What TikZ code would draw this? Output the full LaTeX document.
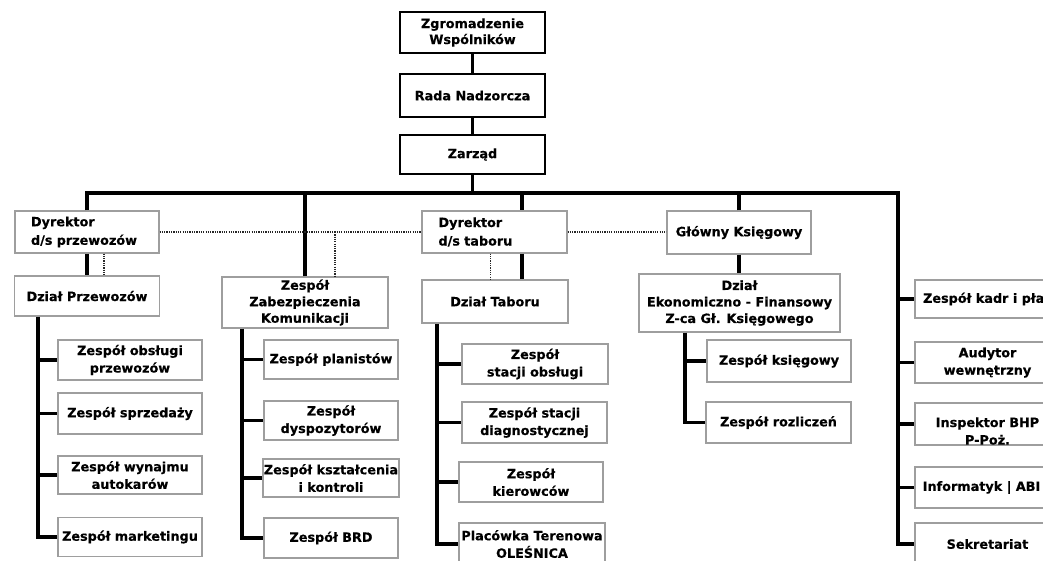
\documentclass[tikz,border=0pt]{standalone}
\usepackage{fontspec}
\setmainfont{DejaVu Sans}[BoldFeatures={FakeBold=0.4}]
\begin{document}
\begin{tikzpicture}[x=1pt,y=-1pt,
  every node/.style={font=\fontsize{12.8}{17.5}\selectfont\bfseries, inner sep=0pt, align=center},
  topbox/.style={draw=black, line width=2.2pt, minimum width=145, minimum height=41},
  box/.style={draw=black!38, line width=1.1pt},
  dirbox/.style={box, text width=112, align=left, minimum height=42, font=\fontsize{12.8}{18.5}\selectfont\bfseries},
  kid/.style={box, minimum width=144, minimum height=40},
  conn/.style={line width=3.2pt},
  dots/.style={line width=1.4pt, dash pattern=on 1.2pt off 1.1pt, black!85}]
\useasboundingbox (0,0) rectangle (1043,560);
\clip (0,0) rectangle (1043,560);
\fill[white] (0,0) rectangle (1043,560);

% top
\node[topbox, font=\fontsize{12.8}{16}\selectfont\bfseries] (zg) at (472.5,32.5) {Zgromadzenie\\Wspólników};
\node[topbox, minimum height=43] (rn) at (472.5,95.5) {Rada Nadzorcza};
\node[topbox, minimum height=39] (za) at (472.5,154.5) {Zarząd};

% second level
\node[dirbox, minimum width=144] (dp) at (87,232) {Dyrektor\\d/s~przewozów};
\node[dirbox, minimum width=145] (dt) at (494.5,232) {Dyrektor\\d/s~taboru};
\node[box, minimum width=144, minimum height=43] (gk) at (739,232.5) {Główny Księgowy};

% third level
\node[box, minimum width=145, minimum height=40] (dzp) at (87,296) {Dział Przewozów};
\node[box, minimum width=166, minimum height=51, font=\fontsize{12.8}{16.5}\selectfont\bfseries] (zzk) at (305,302.5) {Zespół\\Zabezpieczenia\\Komunikacji};
\node[box, minimum width=146, minimum height=43] (dzt) at (495,301.5) {Dział Taboru};
\node[box, minimum width=201, minimum height=58, font=\fontsize{12.8}{16.5}\selectfont\bfseries] (dek) at (739.5,303) {Dział\\Ekonomiczno - Finansowy\\Z-ca Gł. Księgowego};

% Dział Przewozów children
\node[kid] (z1) at (130,360) {Zespół obsługi\\przewozów};
\node[kid, minimum height=41] (z2) at (130,413.5) {Zespół sprzedaży};
\node[kid, minimum height=38] (z3) at (130,475) {Zespół wynajmu\\autokarów};
\node[kid, minimum height=39] (z4) at (130,537) {Zespół marketingu};

% Zabezpieczenia children
\node[kid, minimum width=134, minimum height=39] (y1) at (331,359.5) {Zespół planistów};
\node[kid, minimum width=134, minimum height=39] (y2) at (331,420.5) {Zespół\\dyspozytorów};
\node[kid, minimum width=136, minimum height=38] (y3) at (331,478) {Zespół kształcenia\\i kontroli};
\node[kid, minimum width=134] (y4) at (331,538) {Zespół BRD};

% Taboru children
\node[kid, minimum width=146] (t1) at (535,364) {Zespół\\stacji obsługi};
\node[kid, minimum width=145, minimum height=41] (t2) at (534.5,422.5) {Zespół stacji\\diagnostycznej};
\node[kid] (t3) at (531,482) {Zespół\\kierowców};
\node[kid, minimum width=146, minimum height=42] (t4) at (532,544) {Placówka Terenowa\\OLEŚNICA};

% Ekonomiczny children
\node[kid, minimum height=42] (e1) at (779,361) {Zespół księgowy};
\node[kid, minimum width=145, minimum height=41] (e2) at (778.5,422.5) {Zespół rozliczeń};

% right column
\node[kid, minimum width=145, minimum height=38] (r1) at (987.5,299) {Zespół kadr i płac};
\node[kid, minimum width=145, minimum height=41] (r2) at (987.5,362.5) {Audytor\\wewnętrzny};
\node[kid, minimum width=145, minimum height=42] (r3) at (987.5,424) {};
\node (r3t) at ([yshift=-7]r3.center) {Inspektor BHP\\P-Poż.};
\node[kid, minimum width=133, minimum height=41] (r4) at (981.5,487.5) {Informatyk | ABI};
\node[kid, minimum width=145, minimum height=42] (r5) at (987.5,544) {Sekretariat};

% solid connectors
\coordinate (bR) at (898,193);
\coordinate (xT) at (522,193);
\draw[conn] (zg.south) -- (rn.north);
\draw[conn] (rn.south) -- (za.north);
\draw[conn] (za.south) -- (za.south |- bR);
\draw[conn] (dp.north) |- (bR) |- (r5.west);
\draw[conn] (zzk.north) -- (zzk.north |- bR);
\draw[conn] (xT) -- (xT |- dt.north);
\draw[conn] (xT |- dt.south) -- (xT |- dzt.north);
\draw[conn] (gk.north) -- (gk.north |- bR);
\draw[conn] (gk.south) -- (gk.south |- dek.north);
\draw[conn] (dp.south) -- (dp.south |- dzp.north);
\foreach \n in {r1,r2,r3,r4} \draw[conn] (bR |- \n.west) -- (\n.west);

\coordinate (s1) at (38,0);
\draw[conn] (s1 |- dzp.south) |- (z4.west);
\foreach \n in {z1,z2,z3} \draw[conn] (s1 |- \n.west) -- (\n.west);
\coordinate (s2) at (242,0);
\draw[conn] (s2 |- zzk.south) |- (y4.west);
\foreach \n in {y1,y2,y3} \draw[conn] (s2 |- \n.west) -- (\n.west);
\coordinate (s3) at (437,0);
\draw[conn] (s3 |- dzt.south) |- (t4.west);
\foreach \n in {t1,t2,t3} \draw[conn] (s3 |- \n.west) -- (\n.west);
\coordinate (s4) at (685,0);
\draw[conn] (s4 |- dek.south) |- (e2.west);
\draw[conn] (s4 |- e1.west) -- (e1.west);

% dotted connectors
\draw[dots] (dp.east) -- (dt.west);
\draw[dots] (dt.east) -- (dt.east -| gk.west);
\coordinate (dz) at (335,232);
\draw[dots] (dz) -- (dz |- zzk.north);
\coordinate (dpd) at ([xshift=17]dp.south);
\draw[dots] (dpd) -- (dpd |- dzp.north);
\coordinate (dtd) at ([xshift=-4]dt.south);
\draw[dots] (dtd) -- (dtd |- dzt.north);
\end{tikzpicture}
\end{document}
